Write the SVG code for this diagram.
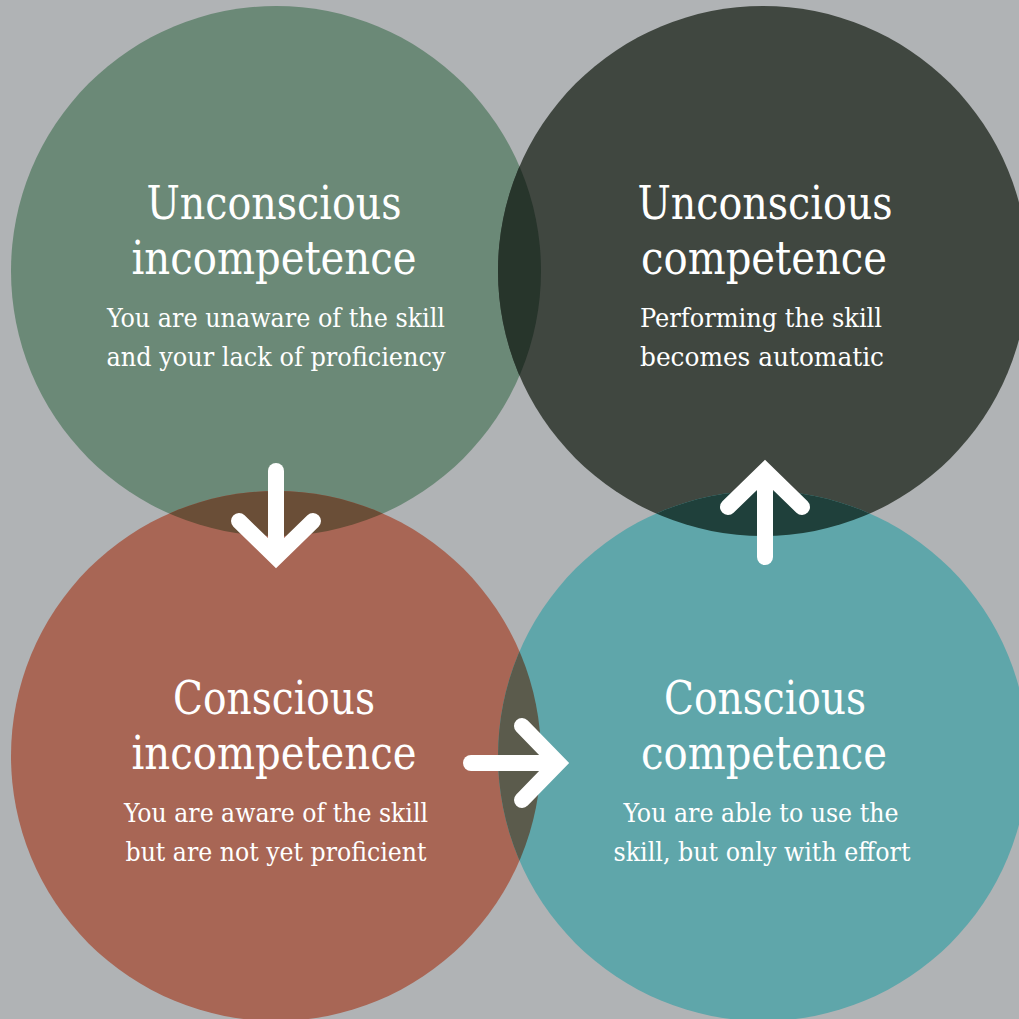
<svg xmlns="http://www.w3.org/2000/svg" width="1019" height="1019" viewBox="0 0 1019 1019">
  <style>
    .title { font-family: "DejaVu Serif", "Liberation Serif", serif; font-stretch: condensed; font-size: 47px; fill: #ffffff; text-anchor: middle; }
    .desc { font-family: "DejaVu Serif", "Liberation Serif", serif; font-stretch: condensed; font-size: 26px; fill: #ffffff; text-anchor: middle; }
    .arrow { fill: none; stroke: #ffffff; stroke-width: 16; stroke-linecap: round; }
    .head { stroke-linejoin: miter; stroke-miterlimit: 4; }
  </style>
  <defs>
    <clipPath id="clipTL"><circle cx="276" cy="271" r="265"/></clipPath>
    <clipPath id="clipTR"><circle cx="763" cy="271" r="265"/></clipPath>
    <clipPath id="clipBL"><circle cx="276" cy="756" r="265"/></clipPath>
  </defs>

  <!-- background -->
  <rect x="0" y="0" width="1019" height="1019" fill="#b0b3b5"/>

  <!-- stage circles -->
  <g id="unconscious-incompetence">
    <circle cx="276" cy="271" r="265" fill="#6b8977"/>
  </g>
  <g id="unconscious-competence">
    <circle cx="763" cy="271" r="265" fill="#404740"/>
  </g>
  <g id="conscious-incompetence">
    <circle cx="276" cy="756" r="265" fill="#a86655"/>
  </g>
  <g id="conscious-competence">
    <circle cx="763" cy="756" r="265" fill="#5fa6aa"/>
  </g>

  <!-- overlapping lenses -->
  <g id="overlaps">
    <circle cx="763" cy="271" r="265" fill="#27352b" clip-path="url(#clipTL)"/>
    <circle cx="276" cy="756" r="265" fill="#6a4e37" clip-path="url(#clipTL)"/>
    <circle cx="763" cy="756" r="265" fill="#1f403b" clip-path="url(#clipTR)"/>
    <circle cx="763" cy="756" r="265" fill="#5b5b4c" clip-path="url(#clipBL)"/>
  </g>

  <!-- labels -->
  <g id="label-ui">
    <text class="title" x="274" y="219" textLength="255" lengthAdjust="spacingAndGlyphs">Unconscious</text>
    <text class="title" x="274" y="274" textLength="285" lengthAdjust="spacingAndGlyphs">incompetence</text>
    <text class="desc" x="276" y="327" textLength="338" lengthAdjust="spacingAndGlyphs">You are unaware of the skill</text>
    <text class="desc" x="276" y="366" textLength="339" lengthAdjust="spacingAndGlyphs">and your lack of proficiency</text>
  </g>
  <g id="label-uc">
    <text class="title" x="765" y="219" textLength="255" lengthAdjust="spacingAndGlyphs">Unconscious</text>
    <text class="title" x="764" y="274" textLength="246" lengthAdjust="spacingAndGlyphs">competence</text>
    <text class="desc" x="761" y="327" textLength="242" lengthAdjust="spacingAndGlyphs">Performing the skill</text>
    <text class="desc" x="762" y="366" textLength="244" lengthAdjust="spacingAndGlyphs">becomes automatic</text>
  </g>
  <g id="label-ci">
    <text class="title" x="274" y="714" textLength="202" lengthAdjust="spacingAndGlyphs">Conscious</text>
    <text class="title" x="274" y="769" textLength="285" lengthAdjust="spacingAndGlyphs">incompetence</text>
    <text class="desc" x="276" y="822" textLength="304" lengthAdjust="spacingAndGlyphs">You are aware of the skill</text>
    <text class="desc" x="276" y="861" textLength="301" lengthAdjust="spacingAndGlyphs">but are not yet proficient</text>
  </g>
  <g id="label-cc">
    <text class="title" x="765" y="714" textLength="202" lengthAdjust="spacingAndGlyphs">Conscious</text>
    <text class="title" x="764" y="769" textLength="246" lengthAdjust="spacingAndGlyphs">competence</text>
    <text class="desc" x="761" y="822" textLength="275" lengthAdjust="spacingAndGlyphs">You are able to use the</text>
    <text class="desc" x="762" y="861" textLength="297" lengthAdjust="spacingAndGlyphs">skill, but only with effort</text>
  </g>

  <!-- transitions between stages -->
  <g id="connectors">
    <g id="arrow-down">
      <line class="arrow" x1="276" y1="471" x2="276" y2="552"/>
      <polyline class="arrow head" points="239,521 276,557 313,521"/>
    </g>
    <g id="arrow-right">
      <line class="arrow" x1="471" y1="763" x2="552" y2="763"/>
      <polyline class="arrow head" points="522,726 558,763 522,800"/>
    </g>
    <g id="arrow-up">
      <line class="arrow" x1="765" y1="557" x2="765" y2="476"/>
      <polyline class="arrow head" points="728,507 765,471 802,507"/>
    </g>
  </g>
</svg>
